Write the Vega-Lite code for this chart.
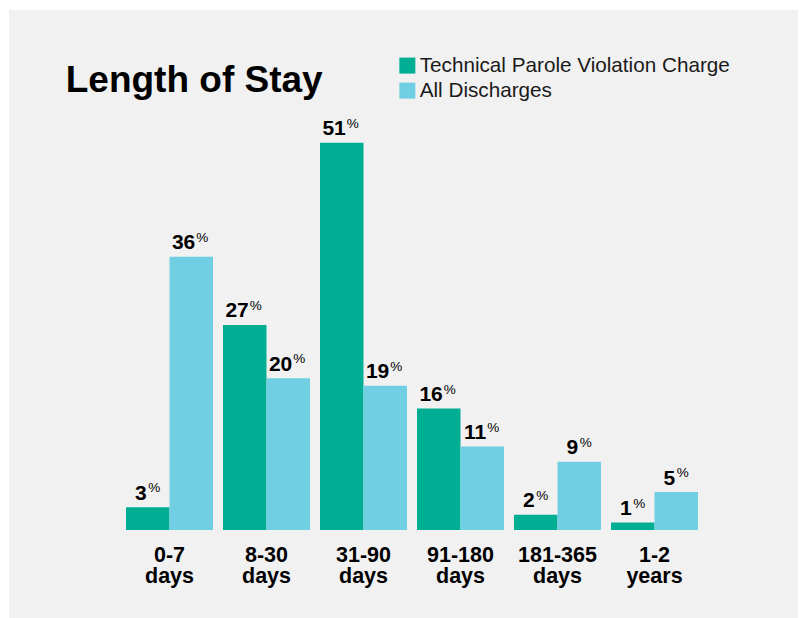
{
  "$schema": "https://vega.github.io/schema/vega-lite/v6.json",
  "width": 789,
  "height": 608,
  "autosize": {"type": "none"},
  "padding": {"left": 9, "top": 10, "right": 3, "bottom": 0},
  "background": "white",
  "title": {"text": "Length of Stay", "anchor": "start", "frame": "group", "orient": "top", "offset": 0, "dx": 56.7, "dy": 118.5, "baseline": "alphabetic", "font": "Liberation Sans", "fontSize": 37, "fontWeight": "bold", "color": "#000000"},
  "config": {"view": {"fill": "#f1f1f1", "stroke": null}, "font": "Liberation Sans"},
  "data": {"values": [
    {"cat": "0-7 days", "series": "Technical Parole Violation Charge", "value": 3},
    {"cat": "0-7 days", "series": "All Discharges", "value": 36},
    {"cat": "8-30 days", "series": "Technical Parole Violation Charge", "value": 27},
    {"cat": "8-30 days", "series": "All Discharges", "value": 20},
    {"cat": "31-90 days", "series": "Technical Parole Violation Charge", "value": 51},
    {"cat": "31-90 days", "series": "All Discharges", "value": 19},
    {"cat": "91-180 days", "series": "Technical Parole Violation Charge", "value": 16},
    {"cat": "91-180 days", "series": "All Discharges", "value": 11},
    {"cat": "181-365 days", "series": "Technical Parole Violation Charge", "value": 2},
    {"cat": "181-365 days", "series": "All Discharges", "value": 9},
    {"cat": "1-2 years", "series": "Technical Parole Violation Charge", "value": 1},
    {"cat": "1-2 years", "series": "All Discharges", "value": 5}
  ]},
  "encoding": {
    "x": {"field": "cat", "type": "nominal", "sort": null, "axis": null, "scale": {"range": [112, 694], "paddingInner": 0.1031, "paddingOuter": 0.0515}},
    "y": {"field": "value", "type": "quantitative", "axis": null, "scale": {"domain": [-11.59, 68.48], "nice": false, "zero": false}}
  },
  "layer": [
    {
      "mark": {"type": "bar"},
      "encoding": {
        "xOffset": {"field": "series", "type": "nominal", "sort": ["Technical Parole Violation Charge", "All Discharges"], "scale": {"paddingInner": 0, "paddingOuter": 0}},
        "y2": {"datum": 0},
        "color": {"field": "series", "type": "nominal", "sort": ["Technical Parole Violation Charge", "All Discharges"],
          "scale": {"domain": ["Technical Parole Violation Charge", "All Discharges"], "range": ["#00ae94", "#70cfe3"]},
          "legend": {"orient": "none", "legendX": 388, "legendY": 45.25, "title": null, "symbolType": "square", "symbolSize": 256, "symbolStrokeWidth": 0, "symbolOpacity": 1, "labelFontSize": 20.7, "labelColor": "#1a1a1a", "labelFont": "Liberation Sans", "rowPadding": 3, "padding": 0, "labelOffset": 2, "labelLimit": 500}}
      }
    },
    {
      "transform": [{"filter": "datum.value >= 10"}],
      "mark": {"type": "text", "align": "right", "baseline": "alphabetic", "dx": 4, "dy": -7.5, "fontSize": 21, "fontWeight": "bold", "color": "#000000"},
      "encoding": {
        "xOffset": {"field": "series", "type": "nominal", "sort": ["Technical Parole Violation Charge", "All Discharges"], "scale": {"paddingInner": 0, "paddingOuter": 0}},
        "text": {"field": "value", "type": "quantitative"}
      }
    },
    {
      "transform": [{"filter": "datum.value < 10"}],
      "mark": {"type": "text", "align": "right", "baseline": "alphabetic", "dx": -1, "dy": -7.5, "fontSize": 21, "fontWeight": "bold", "color": "#000000"},
      "encoding": {
        "xOffset": {"field": "series", "type": "nominal", "sort": ["Technical Parole Violation Charge", "All Discharges"], "scale": {"paddingInner": 0, "paddingOuter": 0}},
        "text": {"field": "value", "type": "quantitative"}
      }
    },
    {
      "transform": [{"filter": "datum.value >= 10"}],
      "mark": {"type": "text", "align": "left", "baseline": "alphabetic", "dx": 5, "dy": -14.8, "fontSize": 13.5, "color": "#000000", "text": "%"},
      "encoding": {
        "xOffset": {"field": "series", "type": "nominal", "sort": ["Technical Parole Violation Charge", "All Discharges"], "scale": {"paddingInner": 0, "paddingOuter": 0}}
      }
    },
    {
      "transform": [{"filter": "datum.value < 10"}],
      "mark": {"type": "text", "align": "left", "baseline": "alphabetic", "dx": 0.5, "dy": -14.8, "fontSize": 13.5, "color": "#000000", "text": "%"},
      "encoding": {
        "xOffset": {"field": "series", "type": "nominal", "sort": ["Technical Parole Violation Charge", "All Discharges"], "scale": {"paddingInner": 0, "paddingOuter": 0}}
      }
    },
    {
      "transform": [{"filter": "datum.series == 'All Discharges'"}],
      "mark": {"type": "text", "align": "center", "baseline": "alphabetic", "lineBreak": " ", "lineHeight": 21.5, "fontSize": 21.5, "fontWeight": "bold", "color": "#000000"},
      "encoding": {
        "y": {"datum": -4.2},
        "text": {"field": "cat", "type": "nominal"}
      }
    }
  ]
}
